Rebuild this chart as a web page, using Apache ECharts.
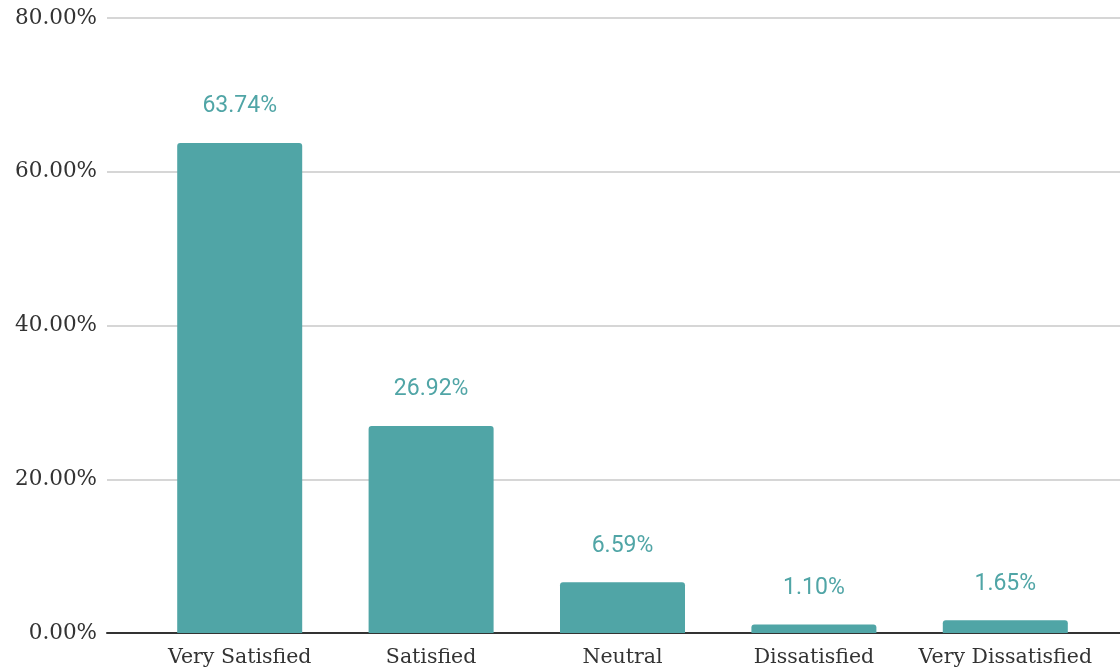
<!DOCTYPE html>
<html>
<head>
<meta charset="utf-8">
<script src="https://cdn.jsdelivr.net/npm/echarts@6/dist/echarts.min.js"></script>
<style>html,body{margin:0;padding:0;background:#fff;}#c{width:1120px;height:671px;}</style>
</head>
<body>
<div id="c"></div>
<script>
var categories = ['Very Satisfied', 'Satisfied', 'Neutral', 'Dissatisfied', 'Very Dissatisfied'];
var values = [63.74, 26.92, 6.59, 1.10, 1.65];
var yTicks = [0, 20, 40, 60, 80];

var chart = echarts.init(document.getElementById('c'), null, {renderer: 'canvas'});
var serif = 'DejaVu Serif';
chart.setOption({
  animation: false,
  backgroundColor: '#ffffff',
  grid: [
    {left: 107, right: 0, top: 18, bottom: 38},
    {left: 144, right: 19, top: 18, bottom: 38}
  ],
  xAxis: [
    {gridIndex: 0, type: 'value', min: 0, max: 1,
     axisLine: {show: true, onZero: false, lineStyle: {color: '#333', width: 2}},
     axisTick: {show: false}, axisLabel: {show: false}, splitLine: {show: false}},
    {gridIndex: 1, type: 'category', data: categories,
     axisLine: {show: false}, axisTick: {show: false},
     axisLabel: {fontFamily: serif, fontSize: 20.5, color: '#333', margin: 14, interval: 0}}
  ],
  yAxis: [
    {gridIndex: 0, type: 'value', min: yTicks[0], max: yTicks[yTicks.length - 1], interval: 20,
     axisLine: {show: false}, axisTick: {show: false},
     axisLabel: {fontFamily: serif, fontSize: 21.5, color: '#333', margin: 10,
       formatter: function (v) { return v.toFixed(2) + '%'; }},
     splitLine: {lineStyle: {color: '#c8c8c8', width: 1.5}}},
    {gridIndex: 1, type: 'value', min: yTicks[0], max: yTicks[yTicks.length - 1], interval: 20,
     show: false, splitLine: {show: false}}
  ],
  series: [{
    type: 'bar',
    xAxisIndex: 1, yAxisIndex: 1,
    data: values,
    barWidth: 125,
    itemStyle: {color: '#50a5a6', borderRadius: [3, 3, 0, 0]},
    label: {show: true, position: 'top', distance: 25, fontFamily: 'Roboto', fontSize: 23,
      color: '#50a5a6', formatter: function (p) { return p.value.toFixed(2) + '%'; }}
  }]
});
</script>
</body>
</html>
